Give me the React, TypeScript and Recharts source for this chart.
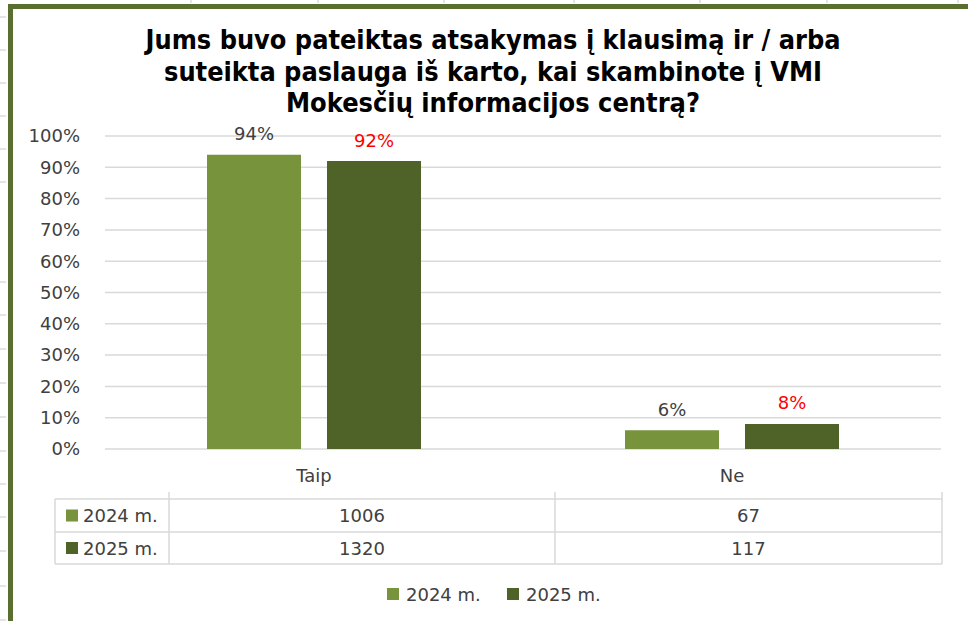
import React from 'react';
import { BarChart, Bar, XAxis, YAxis, CartesianGrid, LabelList } from 'recharts';

const categories = ['Taip', 'Ne'];
const share2024 = [0.94, 0.06];
const share2025 = [0.92, 0.08];
const count2024 = [1006, 67];
const count2025 = [1320, 117];
const seriesNames = ['2024 m.', '2025 m.'];
const seriesKeys = ['y2024', 'y2025'];
const seriesColors = ['#77933c', '#4f6228'];
const labelColors = ['#404040', '#ff0000'];
const yTicks = [0, 0.1, 0.2, 0.3, 0.4, 0.5, 0.6, 0.7, 0.8, 0.9, 1];
const titleLines = [
  'Jums buvo pateiktas atsakymas į klausimą ir / arba',
  'suteikta paslauga iš karto, kai skambinote į VMI',
  'Mokesčių informacijos centrą?',
];

const data = categories.map((c, i) => ({ name: c, y2024: share2024[i], y2025: share2025[i] }));
const counts = [count2024, count2025];

const FONT = '"DejaVu Sans", Verdana, sans-serif';
const TITLE_FONT = '"DejaVu Sans Condensed", "DejaVu Sans", sans-serif';
const TEXT = '#404040';
const GRID = '#d9d9d9';

const pct = (v: number) => `${Math.round(v * 100)}%`;

const makeLabel = (color: string) => (props: any) => {
  const { x, y, width, value } = props;
  return (
    <text
      x={Number(x) + Number(width) / 2}
      y={Number(y) - 21}
      textAnchor="middle"
      dominantBaseline="central"
      fill={color}
      fontSize={18}
      fontFamily={FONT}
    >
      {pct(Number(value))}
    </text>
  );
};

const titleLayout = [
  { y: 49, len: 695 },
  { y: 81, len: 658 },
  { y: 112, len: 414 },
];

const leftTicks = [17, 50, 83, 116, 149, 182, 282, 315, 349, 383, 417, 451, 484, 517, 551, 586, 620];
const topTicks = [191, 318, 444, 574, 700, 827, 958];

export default function App() {
  const tableX = [55, 169, 555, 942];
  const rowY = [499, 532, 564];
  return (
    <div style={{ position: 'absolute', left: 0, top: 0, width: 968, height: 621, background: '#fff', overflow: 'hidden' }}>
      <BarChart
        width={968}
        height={621}
        data={data}
        margin={{ top: 136, right: 27, left: 0, bottom: 132 }}
        barSize={94}
        barGap={26}
        style={{ position: 'absolute', left: 0, top: 0 }}
      >
        <CartesianGrid horizontal vertical={false} stroke={GRID} strokeWidth={1.5} />
        <XAxis
          dataKey="name"
          axisLine={false}
          tickLine={false}
          tickSize={0}
          tickMargin={20}
          height={40}
          tick={{ fill: TEXT, fontSize: 18, fontFamily: FONT }}
        />
        <YAxis
          domain={[0, 1]}
          ticks={yTicks}
          tickFormatter={pct}
          axisLine={false}
          tickLine={false}
          tickSize={0}
          tickMargin={25}
          width={105}
          interval={0}
          tick={{ fill: TEXT, fontSize: 18, fontFamily: FONT }}
        />
        {seriesKeys.map((k, i) => (
          <Bar key={k} dataKey={k} name={seriesNames[i]} fill={seriesColors[i]} isAnimationActive={false}>
            <LabelList dataKey={k} content={makeLabel(labelColors[i])} />
          </Bar>
        ))}
      </BarChart>
      <svg width={968} height={621} style={{ position: 'absolute', left: 0, top: 0, pointerEvents: 'none' }}>
        {leftTicks.map((y) => (
          <line key={'l' + y} x1={0} x2={6} y1={y} y2={y} stroke="#c8c8c8" strokeWidth={1} />
        ))}
        {topTicks.map((x) => (
          <line key={'t' + x} x1={x} x2={x} y1={0} y2={3} stroke="#c8c8c8" strokeWidth={1} />
        ))}
        <rect x={8} y={4} width={960} height={5} fill="#5a6e2f" />
        <rect x={8} y={4} width={5} height={617} fill="#5a6e2f" />
        {titleLines.map((t, i) => (
          <text
            key={i}
            x={493}
            y={titleLayout[i].y}
            textAnchor="middle"
            fontSize={26}
            fontWeight="bold"
            fontFamily={TITLE_FONT}
            fill="#000"
            textLength={titleLayout[i].len}
            lengthAdjust="spacingAndGlyphs"
          >
            {t}
          </text>
        ))}
        {rowY.map((y) => (
          <line key={'h' + y} x1={tableX[0]} x2={tableX[3]} y1={y} y2={y} stroke={GRID} strokeWidth={1.5} />
        ))}
        <line x1={tableX[0]} x2={tableX[0]} y1={rowY[0]} y2={rowY[2]} stroke={GRID} strokeWidth={1.5} />
        {tableX.slice(1).map((x) => (
          <line key={'v' + x} x1={x} x2={x} y1={492} y2={rowY[2]} stroke={GRID} strokeWidth={1.5} />
        ))}
        {seriesNames.map((n, r) => {
          const cy = (rowY[r] + rowY[r + 1]) / 2;
          return (
            <g key={n}>
              <rect x={66} y={cy - 6} width={12} height={12} fill={seriesColors[r]} />
              <text x={83} y={cy} dominantBaseline="central" fontSize={18} fontFamily={FONT} fill={TEXT}>
                {n}
              </text>
              {categories.map((c, ci) => (
                <text
                  key={c}
                  x={(tableX[ci + 1] + tableX[ci + 2]) / 2}
                  y={cy}
                  textAnchor="middle"
                  dominantBaseline="central"
                  fontSize={18}
                  fontFamily={FONT}
                  fill={TEXT}
                >
                  {counts[r][ci]}
                </text>
              ))}
            </g>
          );
        })}
        {seriesNames.map((n, i) => {
          const x0 = 387 + i * 120;
          return (
            <g key={'lg' + n}>
              <rect x={x0} y={588} width={12} height={12} fill={seriesColors[i]} />
              <text x={x0 + 19} y={594} dominantBaseline="central" fontSize={18} fontFamily={FONT} fill={TEXT}>
                {n}
              </text>
            </g>
          );
        })}
      </svg>
    </div>
  );
}
